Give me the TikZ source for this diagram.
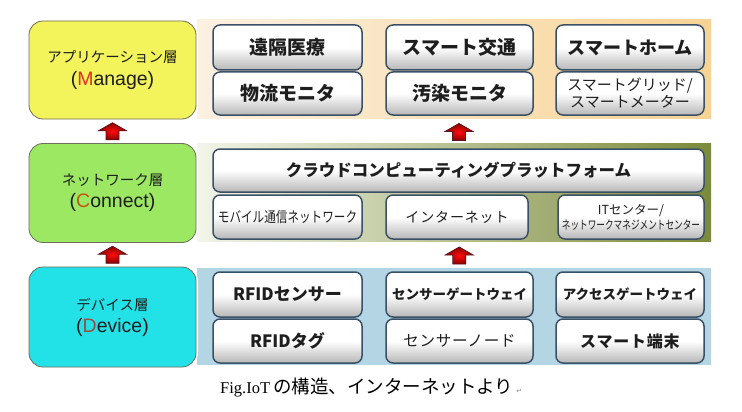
\documentclass[tikz,border=0pt]{standalone}
\usepackage{fontspec}
\usepackage{graphicx}
\setmainfont{Liberation Sans}
\newfontfamily\jp{Noto Sans CJK JP}
\newfontfamily\capserif{Liberation Serif}
\newfontfamily\dejavu{DejaVu Sans}
\usetikzlibrary{calc}
\definecolor{boxline}{RGB}{58,80,102}
\definecolor{layline}{RGB}{110,110,90}
\definecolor{appfill}{RGB}{243,243,92}
\definecolor{netfill}{RGB}{156,232,98}
\definecolor{devfill}{RGB}{34,226,232}
\definecolor{appbandL}{RGB}{252,240,225}
\definecolor{appbandR}{RGB}{247,212,148}
\definecolor{netbandL}{RGB}{242,245,232}
\definecolor{netbandR}{RGB}{122,138,58}
\definecolor{devband}{RGB}{180,214,228}
\definecolor{txt}{RGB}{30,30,30}
\definecolor{mred}{RGB}{220,50,30}
\definecolor{corange}{RGB}{200,85,15}
\definecolor{dbrown}{RGB}{160,75,60}
\definecolor{arrowdark}{RGB}{90,20,30}
\tikzset{
  itembox/.style={draw=boxline, line width=1.5pt, rounded corners=7pt,
    top color=white, bottom color=black!28, middle color=white,
    inner sep=0pt, text=txt, align=center},
  layerbox/.style={draw=layline, line width=0.8pt, rounded corners=14pt,
    inner sep=0pt, text=txt, align=center},
  upblock/.style={draw=arrowdark, line width=0.8pt, inner color=red!95!white, outer color=red!55!black},
}
\newcommand{\ibox}[7]{% name, x1, y1, x2, y2, font, text
  \node[itembox, font={\jp#6}, minimum width={(#4-#2)*1pt}, minimum height={(#5-#3)*1pt}]
    (#1) at ({(#2+#4)/2},{(#3+#5)/2}) {#7};}
\begin{document}
\begin{tikzpicture}[x=1pt,y=-1pt]
\useasboundingbox[fill=white] (0,0) rectangle (742,412);
% bands
\path[left color=appbandL, right color=appbandR] (197,20) rectangle (711,118);
\path[left color=netbandL, right color=netbandR] (197,143) rectangle (711,241);
\path[fill=devband] (197,268) rectangle (711,365);
% layer boxes
\draw[white, line width=4pt, rounded corners=15pt] (29,21) rectangle (196,119);
\draw[white, line width=4pt, rounded corners=15pt] (29,143) rectangle (196,242);
\draw[white, line width=4pt, rounded corners=15pt] (29,267) rectangle (196,367);
\node[layerbox, fill=appfill, minimum width=167pt, minimum height=98pt] (app) at (112.5,70)
  {{\jp\fontsize{14.5}{18}\selectfont アプリケーション層}\\[6pt]
   {\fontsize{19.5}{22}\selectfont (\textcolor{mred}{M}anage)}};
\node[layerbox, fill=netfill, minimum width=167pt, minimum height=99pt] (net) at (112.5,193)
  {{\jp\fontsize{14.5}{18}\selectfont ネットワーク層}\\[6pt]
   {\fontsize{19.5}{22}\selectfont (\textcolor{corange}{C}onnect)}};
\node[layerbox, fill=devfill, minimum width=167pt, minimum height=100pt] (dev) at (112.5,317)
  {{\jp\fontsize{14.5}{18}\selectfont デバイス層}\\[6pt]
   {\fontsize{19.5}{22}\selectfont (\textcolor{dbrown}{D}evice)}};
% application row
\ibox{a11}{213}{25}{362}{70}{\fontsize{19}{22}\selectfont\bfseries}{遠隔医療}
\ibox{a21}{213}{72}{362}{115}{\fontsize{19}{22}\selectfont\bfseries}{物流モニタ}
\ibox{a12}{386}{25}{533}{70}{\fontsize{19}{22}\selectfont\bfseries}{スマート交通}
\ibox{a22}{386}{72}{533}{115}{\fontsize{19}{22}\selectfont\bfseries}{汚染モニタ}
\ibox{a13}{556}{25}{704}{70}{\fontsize{18}{22}\selectfont\bfseries}{スマートホーム}
\ibox{a23}{556}{72}{704}{115}{\fontsize{15}{17}\selectfont}{スマートグリッド/\\スマートメーター}
% network row
\ibox{n1}{213}{149}{704}{192}{\fontsize{16.5}{20}\selectfont\bfseries}{クラウドコンピューティングプラットフォーム}
\ibox{n21}{213}{195}{362}{239}{\fontsize{14.5}{17}\selectfont}{\scalebox{0.8}[1]{モバイル通信ネットワーク}}
\ibox{n22}{386}{195}{528}{239}{\fontsize{14}{17}\selectfont\addfontfeature{LetterSpace=6}}{インターネット}
\ibox{n23}{558}{195}{704}{239}{\fontsize{12.5}{14}\selectfont}{ITセンター/\\[1pt]\scalebox{0.72}[1]{\fontsize{12}{14}\selectfont ネットワークマネジメントセンター}}
% device row
\ibox{d11}{213}{272}{362}{317}{\fontsize{17}{20}\selectfont\bfseries}{RFIDセンサー}
\ibox{d21}{213}{319}{362}{363}{\fontsize{17}{20}\selectfont\bfseries}{RFIDタグ}
\ibox{d12}{386}{272}{533}{317}{\fontsize{13.5}{16}\selectfont\bfseries}{センサーゲートウェイ}
\ibox{d22}{386}{319}{533}{363}{\fontsize{15.5}{18}\selectfont\addfontfeature{LetterSpace=5}}{センサーノード}
\ibox{d13}{556}{272}{704}{317}{\fontsize{13.5}{16}\selectfont\bfseries}{アクセスゲートウェイ}
\ibox{d23}{556}{319}{704}{363}{\fontsize{16}{18}\selectfont\addfontfeature{LetterSpace=5}\bfseries}{スマート端末}
% arrows
\coordinate (ar1) at ($(app.south)!0.5!(net.north)+(0,-8.5)$);
\coordinate (ar2) at ($(a22.south)!0.5!(n1.north)+(0,-8.5)$);
\coordinate (ar3) at ($(net.south)!0.5!(dev.north)+(0,-8.5)$);
\coordinate (ar4) at ($(n22.south)!0.5!(d12.north)+(1,-8.5)$);
\foreach \a in {ar1,ar2,ar3,ar4}{
  \path[upblock] (\a) -- ++(14,8) -- ++(-7.5,0) -- ++(0,9) -- ++(-13,0) -- ++(0,-9) -- ++(-7.5,0) -- cycle;
}
% caption
\node[anchor=west, inner sep=0pt, text=black] (cap) at (220,388)
  {{\capserif\fontsize{16.5}{20}\selectfont Fig.IoT}\hspace{3pt}{\jp\fontsize{18.5}{20}\selectfont の構造、インターネットより}\hspace{3pt}{\dejavu\fontsize{7}{8}\selectfont\textcolor{black!45}{↵}}};
\end{tikzpicture}
\end{document}
